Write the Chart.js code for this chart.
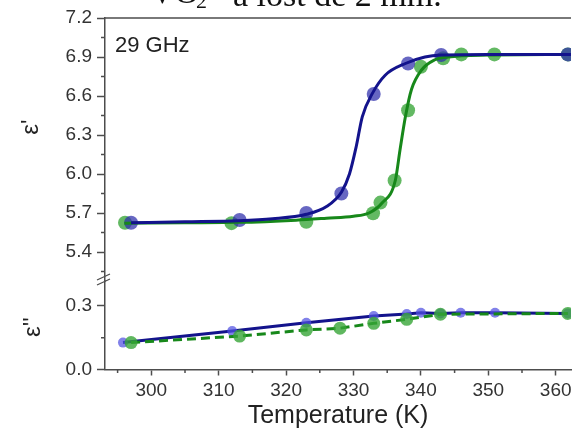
<!DOCTYPE html>
<html>
<head>
<meta charset="utf-8">
<script src="https://cdn.jsdelivr.net/npm/chart.js@4.4.1/dist/chart.umd.min.js"></script>
<style>
  html, body { margin: 0; padding: 0; background: #fff; }
</style>
</head>
<body>
<canvas id="Chart01" width="578" height="433"></canvas>
<script>
/* Values */
// eps' measured points
const tempRealBlue = [297.0, 313.1, 323.0, 328.2, 333.0, 338.1, 343.0, 361.8];
const epsRealBlue = [5.625, 5.646, 5.70, 5.85, 6.615, 6.85, 6.915, 6.92];
const tempRealGreen = [296.1, 311.9, 323.0, 332.9, 334.0, 336.1, 338.1, 340.0, 343.3, 346.0, 350.9, 361.8];
const epsRealGreen = [5.625, 5.622, 5.633, 5.698, 5.78, 5.95, 6.49, 6.825, 6.89, 6.92, 6.92, 6.92];

// eps' fitted curves
const tempFitBlue = [297, 305, 313, 318, 323, 326, 328.2, 329.4, 330.4, 331.3, 332.8, 334.7, 337.7, 340.6, 343, 350, 362.3];
const epsFitBlue = [5.625, 5.632, 5.64, 5.655, 5.69, 5.75, 5.86, 6.0, 6.21, 6.44, 6.62, 6.76, 6.85, 6.90, 6.915, 6.92, 6.92];
const tempFitGreen = [296, 305, 313, 321.5, 326, 330, 332.3, 334.2, 336.2, 336.9, 337.7, 338.6, 340.1, 342, 344, 350, 362.3];
const epsFitGreen = [5.622, 5.625, 5.628, 5.645, 5.66, 5.675, 5.70, 5.775, 5.95, 6.185, 6.44, 6.65, 6.80, 6.877, 6.90, 6.915, 6.92];

// eps'' points
const tempImagBlue = [295.8, 312.0, 323.0, 333.0, 337.9, 340.0, 342.9, 345.9, 351.0, 361.8];
const epsImagBlue = [0.127, 0.182, 0.221, 0.253, 0.262, 0.268, 0.265, 0.268, 0.268, 0.265];
const tempImagGreen = [297.0, 313.1, 323.0, 328.0, 333.0, 337.9, 342.9, 361.8];
const epsImagGreen = [0.127, 0.158, 0.187, 0.195, 0.218, 0.237, 0.261, 0.265];

// ticks
const xTicks = [300, 310, 320, 330, 340, 350, 360];
const xMinor = [295, 305, 315, 325, 335, 345, 355];
const yTicks = [5.4, 5.7, 6.0, 6.3, 6.6, 6.9, 7.2];
const yMinor = [5.25, 5.55, 5.85, 6.15, 6.45, 6.75, 7.05];
const y2Ticks = [0.0, 0.3];
const y2Minor = [0.15];

function pts(xs, ys) {
  return xs.map((v, i) => ({x: v, y: ys[i]}));
}

const AX = '#4d4d4d';
const TXT = '#333333';
const FONT = "'Liberation Sans', Arial, sans-serif";

/* Extra drawing: frame top, minor ticks, axis break, labels */
const decorations = {
  id: 'decorations',
  afterDraw(chart) {
    const ctx = chart.ctx;
    const area = chart.chartArea;
    const sx = chart.scales.x, sy = chart.scales.y, sy2 = chart.scales.y2;
    ctx.save();
    ctx.strokeStyle = AX;
    ctx.lineWidth = 1.5;
    // top frame line
    ctx.beginPath();
    ctx.moveTo(area.left, area.top);
    ctx.lineTo(area.right, area.top);
    ctx.stroke();
    // minor ticks
    ctx.beginPath();
    xMinor.forEach(v => {
      const px = sx.getPixelForValue(v);
      ctx.moveTo(px, area.bottom);
      ctx.lineTo(px, area.bottom + 3.5);
    });
    yMinor.forEach(v => {
      const py = sy.getPixelForValue(v);
      ctx.moveTo(area.left, py);
      ctx.lineTo(area.left - 4, py);
    });
    y2Minor.forEach(v => {
      const py = sy2.getPixelForValue(v);
      ctx.moveTo(area.left, py);
      ctx.lineTo(area.left - 4, py);
    });
    ctx.stroke();
    // axis break
    const yb = sy.bottom;
    ctx.lineWidth = 1.3;
    ctx.beginPath();
    ctx.moveTo(area.left - 8, yb - 1);
    ctx.lineTo(area.left + 5, yb - 7);
    ctx.moveTo(area.left - 8, yb + 4);
    ctx.lineTo(area.left + 5, yb - 2);
    ctx.stroke();
    // axis titles
    ctx.fillStyle = '#222';
    ctx.font = '24px ' + FONT;
    ctx.textAlign = 'center';
    ctx.textBaseline = 'middle';
    ctx.save();
    ctx.translate(31, 127);
    ctx.rotate(-Math.PI / 2);
    ctx.fillText("ε'", 0, 0);
    ctx.restore();
    ctx.save();
    ctx.translate(33, 327);
    ctx.rotate(-Math.PI / 2);
    ctx.fillText("ε''", 0, 0);
    ctx.restore();
    // panel label
    ctx.textAlign = 'left';
    ctx.textBaseline = 'alphabetic';
    ctx.font = '22px ' + FONT;
    ctx.fillText('29 GHz', 115, 52);
    // caption cut by the top edge
    ctx.fillStyle = '#111';
    ctx.font = "34px 'Liberation Serif', serif";
    ctx.fillText('VO', 150, 3);
    ctx.font = "22px 'Liberation Serif', serif";
    ctx.fillText('2', 196, 8);
    ctx.font = "34px 'Liberation Serif', serif";
    ctx.fillText('a lost de 2 mm.', 233, 6);
    ctx.restore();
  }
};

const config01 = {
  type: 'scatter',
  data: {
    datasets: [
      {
        label: 'fit blue', data: pts(tempFitBlue, epsFitBlue), yAxisID: 'y',
        showLine: true, pointRadius: 0, borderColor: '#13138c', borderWidth: 3,
        cubicInterpolationMode: 'monotone', order: 0
      },
      {
        label: 'fit green', data: pts(tempFitGreen, epsFitGreen), yAxisID: 'y',
        showLine: true, pointRadius: 0, borderColor: '#17881a', borderWidth: 3,
        cubicInterpolationMode: 'monotone', order: 0
      },
      {
        label: 'eps1 blue', data: pts(tempRealBlue, epsRealBlue), yAxisID: 'y',
        pointRadius: 7, pointBackgroundColor: 'rgba(45,45,170,0.72)', pointBorderWidth: 0, order: 1
      },
      {
        label: 'eps1 green', data: pts(tempRealGreen, epsRealGreen), yAxisID: 'y',
        pointRadius: 7, pointBackgroundColor: 'rgba(55,165,55,0.78)', pointBorderWidth: 0, order: 2
      },
      {
        label: 'eps2 blue', data: pts(tempImagBlue, epsImagBlue), yAxisID: 'y2',
        showLine: true, borderColor: '#13138c', borderWidth: 3,
        pointRadius: 5, pointBackgroundColor: 'rgba(80,80,225,0.72)', pointBorderWidth: 0, order: 1
      },
      {
        label: 'eps2 green', data: pts(tempImagGreen, epsImagGreen), yAxisID: 'y2',
        showLine: true, borderColor: '#17881a', borderWidth: 3, borderDash: [9, 5],
        pointRadius: 6.5, pointBackgroundColor: 'rgba(55,165,55,0.8)', pointBorderWidth: 0, order: 0
      }
    ]
  },
  options: {
    responsive: false,
    animation: false,
    devicePixelRatio: 1,
    layout: {padding: {top: 18, left: 0, right: 0, bottom: 0}},
    plugins: {legend: {display: false}, tooltip: {enabled: false}},
    scales: {
      x: {
        type: 'linear', position: 'bottom', min: 293.13, max: 362.27,
        border: {color: AX, width: 1.5},
        grid: {drawOnChartArea: false, tickLength: 6, tickColor: AX, tickWidth: 1.5},
        ticks: {color: TXT, font: {family: FONT, size: 19}, padding: 4, maxRotation: 0, autoSkip: false},
        afterBuildTicks: s => { s.ticks = xTicks.map(v => ({value: v})); },
        afterFit: s => { s.height = 63.5; },
        title: {display: true, text: 'Temperature (K)', color: '#222', font: {family: FONT, size: 25}, padding: {top: 0, bottom: 2}}
      },
      y: {
        type: 'linear', position: 'left', stack: 'eps', stackWeight: 263, weight: 1,
        min: 5.177, max: 7.2,
        border: {color: AX, width: 1.5},
        grid: {drawOnChartArea: false, tickLength: 8, tickColor: AX, tickWidth: 1.5},
        ticks: {color: TXT, font: {family: FONT, size: 19}, padding: 5,
          callback: v => v.toFixed(1)},
        afterBuildTicks: s => { s.ticks = yTicks.map(v => ({value: v})); },
        afterFit: s => { s.width = 105; }
      },
      y2: {
        type: 'linear', position: 'left', stack: 'eps', stackWeight: 88.5, weight: 0,
        min: 0, max: 0.418,
        border: {color: AX, width: 1.5},
        grid: {drawOnChartArea: false, tickLength: 8, tickColor: AX, tickWidth: 1.5},
        ticks: {color: TXT, font: {family: FONT, size: 19}, padding: 5,
          callback: v => v.toFixed(1)},
        afterBuildTicks: s => { s.ticks = y2Ticks.map(v => ({value: v})); },
        afterFit: s => { s.width = 105; }
      }
    }
  },
  plugins: [decorations]
};

const ctxch01 = document.getElementById('Chart01');
new Chart(ctxch01, config01);
</script>
</body>
</html>
